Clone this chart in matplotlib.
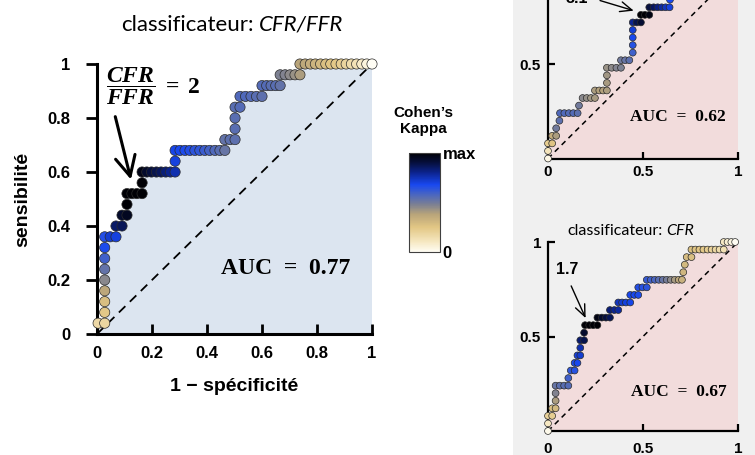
import matplotlib
matplotlib.use('Agg')
import matplotlib.pyplot as plt
from matplotlib.colors import LinearSegmentedColormap, Normalize
from matplotlib.cm import ScalarMappable
from matplotlib.patches import Rectangle

plt.rcParams['font.family'] = ['Liberation Sans', 'DejaVu Sans']
plt.rcParams['mathtext.fontset'] = 'custom'
plt.rcParams['mathtext.rm'] = 'Liberation Serif:bold'
plt.rcParams['mathtext.it'] = 'Liberation Serif:italic:bold'
plt.rcParams['mathtext.bf'] = 'Liberation Serif:bold'

# ---------------- données ----------------
# classificateur CFR/FFR (grand graphique)
main_fpr = [0.004, 0.028, 0.028, 0.028, 0.028, 0.028, 0.028, 0.028, 0.028, 0.028,
            0.048, 0.069, 0.069, 0.091, 0.091, 0.109, 0.109, 0.109, 0.127, 0.145,
            0.164, 0.164, 0.164, 0.181, 0.198, 0.216, 0.233, 0.250, 0.267, 0.284,
            0.284, 0.284, 0.302, 0.320, 0.338, 0.356, 0.374, 0.392, 0.410, 0.429,
            0.447, 0.465, 0.465, 0.484, 0.502, 0.502, 0.502, 0.502, 0.520, 0.520,
            0.540, 0.560, 0.580, 0.600, 0.600, 0.617, 0.633, 0.650, 0.666, 0.666,
            0.684, 0.702, 0.720, 0.738, 0.738, 0.757, 0.776, 0.794, 0.813, 0.832,
            0.850, 0.869, 0.888, 0.906, 0.925, 0.944, 0.963, 0.981, 1.000]
main_tpr = [0.04, 0.04, 0.08, 0.12, 0.16, 0.20, 0.24, 0.28, 0.32, 0.36,
            0.36, 0.36, 0.40, 0.40, 0.44, 0.44, 0.48, 0.52, 0.52, 0.52,
            0.52, 0.56, 0.60, 0.60, 0.60, 0.60, 0.60, 0.60, 0.60, 0.60,
            0.64, 0.68, 0.68, 0.68, 0.68, 0.68, 0.68, 0.68, 0.68, 0.68,
            0.68, 0.68, 0.72, 0.72, 0.72, 0.76, 0.80, 0.84, 0.84, 0.88,
            0.88, 0.88, 0.88, 0.88, 0.92, 0.92, 0.92, 0.92, 0.92, 0.96,
            0.96, 0.96, 0.96, 0.96, 1.00, 1.00, 1.00, 1.00, 1.00, 1.00,
            1.00, 1.00, 1.00, 1.00, 1.00, 1.00, 1.00, 1.00, 1.00]
main_kappa = [0.17, 0.18, 0.24, 0.28, 0.37, 0.46, 0.53, 0.60, 0.67, 0.66,
              0.72, 0.70, 0.85, 0.87, 0.93, 0.95, 1.00, 1.00, 1.00, 1.00,
              1.00, 1.00, 0.97, 0.93, 0.90, 0.88, 0.86, 0.83, 0.80, 0.76,
              0.70, 0.69, 0.68, 0.67, 0.66, 0.64, 0.63, 0.61, 0.59, 0.57,
              0.55, 0.52, 0.53, 0.54, 0.54, 0.55, 0.55, 0.55, 0.56, 0.57,
              0.57, 0.56, 0.55, 0.54, 0.56, 0.56, 0.55, 0.55, 0.53, 0.48,
              0.47, 0.45, 0.43, 0.40, 0.38, 0.36, 0.34, 0.32, 0.30, 0.28,
              0.26, 0.24, 0.22, 0.19, 0.16, 0.13, 0.09, 0.05, 0.00]

# classificateur du haut à droite (AUC 0.62)
top_fpr = [0.000, 0.000, 0.000, 0.022, 0.022, 0.043, 0.043, 0.060, 0.063, 0.086,
           0.110, 0.133, 0.156, 0.163, 0.182, 0.204, 0.226, 0.247, 0.247, 0.270,
           0.290, 0.310, 0.310, 0.310, 0.310, 0.335, 0.360, 0.384, 0.384, 0.406,
           0.428, 0.446, 0.446, 0.446, 0.446, 0.446, 0.467, 0.489, 0.489, 0.510,
           0.533, 0.533, 0.556, 0.577, 0.598, 0.619, 0.640, 0.642]
top_tpr = [0.00, 0.04, 0.08, 0.08, 0.12, 0.12, 0.16, 0.20, 0.24, 0.24,
           0.24, 0.24, 0.24, 0.28, 0.32, 0.32, 0.32, 0.32, 0.36, 0.36,
           0.36, 0.36, 0.40, 0.44, 0.48, 0.48, 0.48, 0.48, 0.52, 0.52,
           0.52, 0.56, 0.60, 0.64, 0.68, 0.72, 0.72, 0.72, 0.76, 0.76,
           0.76, 0.80, 0.80, 0.80, 0.80, 0.80, 0.80, 0.84]
top_kappa = [0.03, 0.12, 0.22, 0.26, 0.34, 0.40, 0.50, 0.54, 0.57, 0.57,
             0.56, 0.56, 0.54, 0.50, 0.46, 0.44, 0.42, 0.41, 0.40, 0.39,
             0.39, 0.40, 0.41, 0.42, 0.43, 0.45, 0.47, 0.48, 0.50, 0.52,
             0.54, 0.60, 0.65, 0.68, 0.71, 0.80, 0.88, 0.92, 1.00, 1.00,
             0.98, 0.90, 0.86, 0.82, 0.78, 0.74, 0.70, 0.68]

# classificateur CFR (bas à droite, AUC 0.67)
bot_fpr = [0.000, 0.000, 0.000, 0.022, 0.022, 0.040, 0.040, 0.040, 0.040, 0.062,
           0.085, 0.107, 0.107, 0.120, 0.140, 0.140, 0.155, 0.155, 0.170, 0.170,
           0.170, 0.190, 0.190, 0.195, 0.217, 0.238, 0.260, 0.260, 0.283, 0.305,
           0.326, 0.326, 0.349, 0.370, 0.370, 0.390, 0.410, 0.433, 0.433, 0.454,
           0.475, 0.475, 0.497, 0.520, 0.520, 0.541, 0.562, 0.583, 0.604, 0.625,
           0.646, 0.667, 0.688, 0.705, 0.712, 0.720, 0.730, 0.755, 0.755, 0.776,
           0.797, 0.818, 0.840, 0.861, 0.882, 0.903, 0.925, 0.925, 0.945, 0.965,
           0.985]
bot_tpr = [0.00, 0.04, 0.08, 0.08, 0.12, 0.12, 0.16, 0.20, 0.24, 0.24,
           0.24, 0.24, 0.28, 0.32, 0.32, 0.36, 0.36, 0.40, 0.40, 0.44,
           0.48, 0.48, 0.52, 0.56, 0.56, 0.56, 0.56, 0.60, 0.60, 0.60,
           0.60, 0.64, 0.64, 0.64, 0.68, 0.68, 0.68, 0.68, 0.72, 0.72,
           0.72, 0.76, 0.76, 0.76, 0.80, 0.80, 0.80, 0.80, 0.80, 0.80,
           0.80, 0.80, 0.80, 0.80, 0.84, 0.88, 0.92, 0.92, 0.96, 0.96,
           0.96, 0.96, 0.96, 0.96, 0.96, 0.96, 0.96, 1.00, 1.00, 1.00,
           1.00]
bot_kappa = [0.02, 0.10, 0.20, 0.22, 0.27, 0.30, 0.40, 0.47, 0.52, 0.54,
             0.55, 0.56, 0.60, 0.63, 0.65, 0.67, 0.68, 0.70, 0.72, 0.76,
             0.84, 0.88, 0.93, 1.00, 1.00, 1.00, 1.00, 0.97, 0.93, 0.90,
             0.87, 0.83, 0.80, 0.78, 0.74, 0.72, 0.70, 0.69, 0.68, 0.68,
             0.67, 0.66, 0.65, 0.64, 0.62, 0.60, 0.58, 0.55, 0.52, 0.49,
             0.45, 0.41, 0.37, 0.33, 0.31, 0.30, 0.29, 0.28, 0.27, 0.26,
             0.25, 0.24, 0.22, 0.20, 0.18, 0.16, 0.14, 0.10, 0.07, 0.04,
             0.00]

# échelle de couleur Cohen's Kappa (0 -> max)
kappa_stops = [0.0, 0.10, 0.25, 0.38, 0.48, 0.58, 0.68, 0.80, 0.90, 1.0]
kappa_colors = ['#fffdf4', '#f6e8c2', '#e2c684', '#b8a47a', '#7c8092',
                '#4a66c0', '#1848f0', '#0c2490', '#061040', '#000005']
cmap = LinearSegmentedColormap.from_list('kappa', list(zip(kappa_stops, kappa_colors)))

W, H = 755, 455


def fx(px):
    return px / W


def fy(py):
    return 1 - py / H


def roc_panel(ax, fpr, tpr, kappa, fill, size, dash, lw_dash, lw_axis):
    # zone sous la courbe, fermée par le coin (1, 1) puis l'axe des x
    ax.fill(list(fpr) + [1, 1, 0], list(tpr) + [1, 0, 0], color=fill, lw=0, zorder=1)
    ax.plot([0, 1], [0, 1], color='black', lw=lw_dash, ls=(0, dash), zorder=2)
    ax.scatter(fpr, tpr, c=kappa, cmap=cmap, vmin=0, vmax=1, s=size,
               edgecolors='#2b2b2b', linewidths=0.5, clip_on=False, zorder=3)
    ax.set_xlim(0, 1)
    ax.set_ylim(0, 1)
    ax.patch.set_visible(False)
    for s in ['top', 'right']:
        ax.spines[s].set_visible(False)
    for s in ['left', 'bottom']:
        ax.spines[s].set_linewidth(lw_axis)


def split_title(fig, cx, cy, plain, italic, size):
    t1 = fig.text(0, fy(cy), plain, fontsize=size, family='Lato', va='center')
    t2 = fig.text(0, fy(cy), italic, fontsize=size, family='Lato',
                  style='italic', va='center')
    r = fig.canvas.get_renderer()
    w1 = t1.get_window_extent(r).width
    w2 = t2.get_window_extent(r).width
    gap = size * 0.3
    x0 = cx - (w1 + gap + w2) / 2
    t1.set_x(fx(x0))
    t2.set_x(fx(x0 + w1 + gap))


fig = plt.figure(figsize=(7.55, 4.55), dpi=100)

# panneau gris à droite
fig.add_artist(Rectangle((fx(513), 0), 1 - fx(513), 1, transform=fig.transFigure,
                         facecolor='#f0f0f0', edgecolor='none', zorder=-10))

# ---------------- grand graphique ----------------
ax = fig.add_axes([fx(97), fy(334), 275 / W, 270 / H])
roc_panel(ax, main_fpr, main_tpr, main_kappa, '#dce5f0', 54, (5, 3.5), 1.3, 2.2)
ticks = [0, 0.2, 0.4, 0.6, 0.8, 1]
tick_labels = ['0', '0.2', '0.4', '0.6', '0.8', '1']
ax.set_xticks(ticks)
ax.set_xticklabels(tick_labels, fontweight='bold', fontsize=12)
ax.set_yticks(ticks)
ax.set_yticklabels(tick_labels, fontweight='bold', fontsize=12)
ax.tick_params(axis='x', direction='in', length=7, width=2, pad=9)
ax.tick_params(axis='y', direction='out', length=8, width=2, pad=11)
ax.set_xlabel('1 \u2212 spécificité', fontsize=14, fontweight='bold', labelpad=12)
ax.set_ylabel('sensibilité', fontsize=14, fontweight='bold', labelpad=12)

ax.text(0.687, 0.244, 'AUC  =  0.77', family='Liberation Serif', weight='bold',
        fontsize=17, ha='center', va='center')
ax.annotate('', xy=(0.126, 0.562), xytext=(0.064, 0.815),
            arrowprops=dict(arrowstyle='->,head_length=0.9,head_width=0.45',
                            lw=2.2, color='black', mutation_scale=16))
fig.text(fx(106), fy(86), r'$\dfrac{CFR}{FFR}\;=\;2$', fontsize=17,
         ha='left', va='center')
split_title(fig, 232, 25, 'classificateur:', 'CFR/FFR', 16)

# ---------------- barre de couleur ----------------
cax = fig.add_axes([fx(409), fy(252), 31 / W, 99 / H])
cb = fig.colorbar(ScalarMappable(norm=Normalize(0, 1), cmap=cmap), cax=cax, ticks=[0, 1])
cb.ax.set_yticklabels(['0', 'max'], fontweight='bold', fontsize=12)
cb.ax.tick_params(length=0, pad=2)
cb.outline.set_edgecolor('#404040')
cb.outline.set_linewidth(0.8)
fig.text(fx(423), fy(121), 'Cohen\u2019s\nKappa', ha='center', va='center',
         fontsize=11, fontweight='bold', linespacing=1.25)

# ---------------- petits graphiques ----------------
small_ticks = [0, 0.5, 1]
small_labels = ['0', '0.5', '1']

ax2 = fig.add_axes([fx(548), fy(158.5), 190 / W, 189 / H])
roc_panel(ax2, top_fpr, top_tpr, top_kappa, '#f2dcdc', 24, (3.5, 2.8), 1.1, 1.6)
ax2.text(0.682, 0.221, 'AUC  =  0.62', family='Liberation Serif', weight='bold',
         fontsize=12.5, ha='center', va='center')
ax2.annotate('', xy=(0.465, 0.778), xytext=(0.26, 0.84),
             arrowprops=dict(arrowstyle='->,head_length=0.7,head_width=0.3',
                             lw=1.0, color='black', mutation_scale=12),
             annotation_clip=False)
# étiquette coupée par le bord supérieur, comme sur l'original
ax2.text(0.15, 0.823, '3.1', fontsize=11.5, fontweight='bold', ha='center',
         va='baseline', clip_on=False)

ax3 = fig.add_axes([fx(548), fy(431), 190 / W, 189 / H])
roc_panel(ax3, bot_fpr, bot_tpr, bot_kappa, '#f2dcdc', 24, (3.5, 2.8), 1.1, 1.6)
ax3.text(0.687, 0.208, 'AUC  =  0.67', family='Liberation Serif', weight='bold',
         fontsize=12.5, ha='center', va='center')
ax3.annotate('', xy=(0.204, 0.584), xytext=(0.116, 0.781),
             arrowprops=dict(arrowstyle='->,head_length=0.7,head_width=0.3',
                             lw=1.0, color='black', mutation_scale=12))
ax3.text(0.103, 0.852, '1.7', fontsize=11.5, fontweight='bold', ha='center', va='center')
split_title(fig, 631, 231, 'classificateur:', 'CFR', 11.5)

for a, yt in ((ax2, [0.5]), (ax3, [0.5, 1])):
    a.set_xticks(small_ticks)
    a.set_xticklabels(small_labels, fontweight='bold', fontsize=11)
    a.set_yticks(yt)
    a.set_yticklabels(['0.5', '1'][:len(yt)], fontweight='bold', fontsize=11)
    a.tick_params(axis='both', direction='in', length=5, width=1.6, pad=5)
ax3.tick_params(axis='x', pad=8)

fig.savefig('out.png', dpi=100)
